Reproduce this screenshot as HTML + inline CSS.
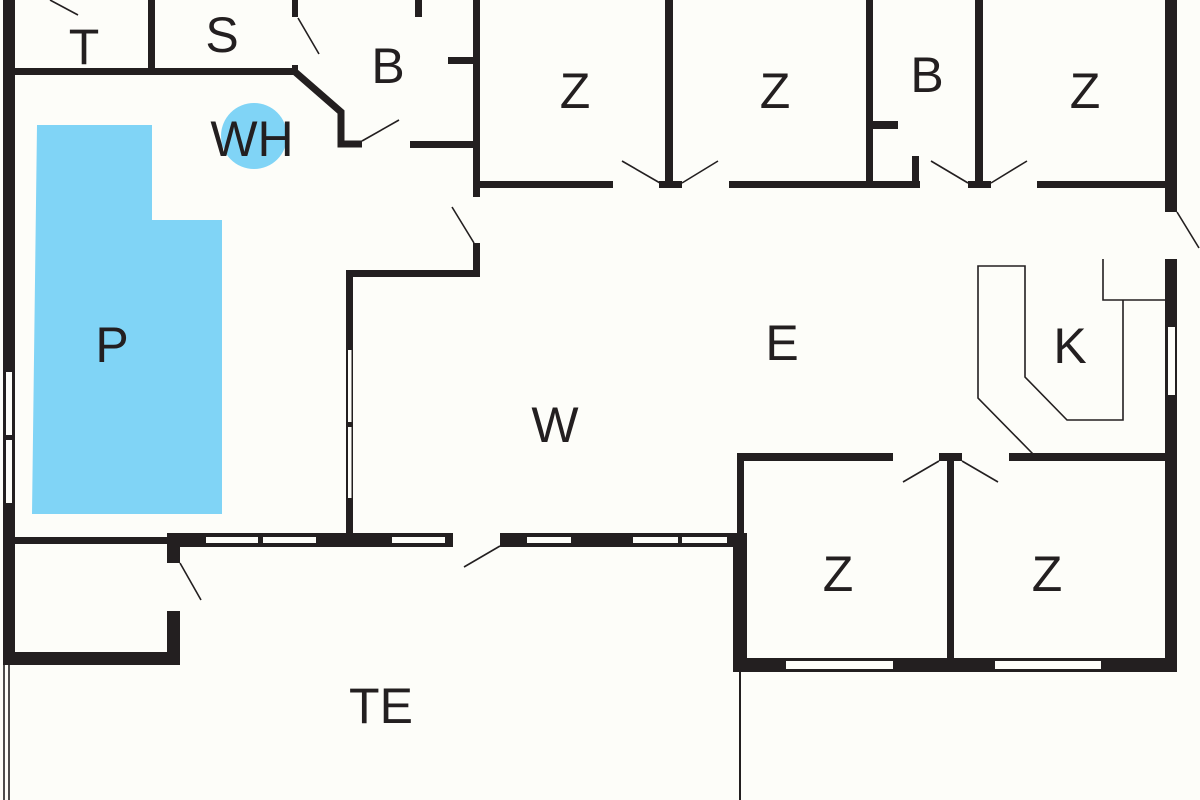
<!DOCTYPE html>
<html>
<head>
<meta charset="utf-8">
<style>
  html, body { margin:0; padding:0; background:#fdfdf9; }
  svg { display:block; }
  text { font-family: "Liberation Sans", Arial, sans-serif; font-size:50px; fill:#231f20; text-anchor:middle; }
</style>
</head>
<body>
<svg width="1200" height="800" viewBox="0 0 1200 800" xmlns="http://www.w3.org/2000/svg">
  <rect x="0" y="0" width="1200" height="800" fill="#fdfdf9"/>

  <!-- Pool -->
  <polygon points="37,125 152,125 152,220 222,220 222,514 32,514" fill="#80d4f6"/>
  <!-- WH circle -->
  <circle cx="254" cy="136" r="33" fill="#80d4f6"/>

  <g fill="#231f20">
    <!-- Left outer wall -->
    <rect x="3" y="0" width="12" height="665"/>
    <!-- T/S bottom wall -->
    <rect x="3" y="68" width="293" height="7"/>
    <!-- T/S divider -->
    <rect x="148" y="0" width="7" height="72"/>
    <!-- B (left) walls -->
    <rect x="292" y="0" width="6" height="17"/>
    <rect x="292" y="65" width="6" height="8"/>
    <rect x="410" y="141" width="70" height="7"/>
    <rect x="473" y="0" width="7" height="197"/>
    <rect x="473" y="243" width="7" height="34"/>
    <rect x="448" y="57" width="25" height="7"/>
    <rect x="415" y="0" width="7" height="17"/>
    <!-- W upper wall -->
    <rect x="346" y="270" width="134" height="7"/>
    <!-- W left vertical wall -->
    <rect x="346" y="270" width="7" height="277"/>
    <!-- Left lower small room -->
    <rect x="3" y="537" width="167" height="7"/>
    <rect x="167" y="533" width="13" height="30"/>
    <rect x="167" y="611" width="13" height="54"/>
    <rect x="3" y="652" width="177" height="13"/>
    <!-- Main bottom wall -->
    <rect x="167" y="533" width="286" height="14"/>
    <rect x="500" y="533" width="247" height="14"/>
    <!-- Right lower rooms -->
    <rect x="737" y="453" width="7" height="82"/>
    <rect x="733" y="533" width="14" height="139"/>
    <rect x="737" y="453" width="156" height="8"/>
    <rect x="939" y="453" width="23" height="8"/>
    <rect x="1009" y="453" width="168" height="8"/>
    <rect x="947" y="455" width="7" height="205"/>
    <rect x="733" y="658" width="444" height="14"/>
    <!-- Right outer wall -->
    <rect x="1165" y="0" width="12" height="212"/>
    <rect x="1165" y="259" width="12" height="413"/>
    <!-- Top rooms bottom wall -->
    <rect x="473" y="181" width="140" height="7"/>
    <rect x="659" y="181" width="23" height="7"/>
    <rect x="729" y="181" width="191" height="7"/>
    <rect x="968" y="181" width="23" height="7"/>
    <rect x="1037" y="181" width="140" height="7"/>
    <!-- Top verticals -->
    <rect x="665" y="0" width="8" height="188"/>
    <rect x="866" y="0" width="7" height="188"/>
    <rect x="873" y="121" width="25" height="8"/>
    <rect x="912" y="156" width="7" height="32"/>
    <rect x="975" y="0" width="8" height="188"/>
  </g>

  <!-- Diagonal wall -->
  <polyline points="294,71 341,112 341,144 362,144" fill="none" stroke="#231f20" stroke-width="7" stroke-linejoin="miter"/>

  <!-- Windows (white insets) -->
  <g fill="#fdfdf9">
    <rect x="6" y="372" width="6" height="63"/>
    <rect x="6" y="440" width="6" height="63"/>
    <rect x="348" y="350" width="3.5" height="72"/>
    <rect x="348" y="427" width="3.5" height="71"/>
    <rect x="206" y="537" width="52" height="6"/>
    <rect x="263" y="537" width="53" height="6"/>
    <rect x="392" y="537" width="53" height="6"/>
    <rect x="527" y="537" width="44" height="6"/>
    <rect x="633" y="537" width="45" height="6"/>
    <rect x="682" y="537" width="45" height="6"/>
    <rect x="786" y="661" width="107" height="8"/>
    <rect x="995" y="661" width="106" height="8"/>
    <rect x="1168" y="327" width="7" height="68"/>
  </g>

  <!-- Thin lines: door swings, kitchen, terrace -->
  <g fill="none" stroke="#231f20" stroke-width="1.6">
    <line x1="50" y1="0" x2="78" y2="15"/>
    <line x1="298" y1="18" x2="319" y2="54"/>
    <line x1="362" y1="141" x2="399" y2="120"/>
    <line x1="452" y1="207" x2="474" y2="243"/>
    <line x1="622" y1="161" x2="660" y2="183"/>
    <line x1="682" y1="183" x2="718" y2="161"/>
    <line x1="931" y1="161" x2="968" y2="183"/>
    <line x1="991" y1="183" x2="1027" y2="161"/>
    <line x1="1177" y1="212" x2="1199" y2="248"/>
    <line x1="903" y1="482" x2="939" y2="461"/>
    <line x1="962" y1="461" x2="998" y2="482"/>
    <line x1="500" y1="546" x2="464" y2="567"/>
    <line x1="180" y1="563" x2="201" y2="600"/>
    <!-- Kitchen -->
    <polyline points="1103,259 1103,300 1165,300"/>
    <polyline points="1123,300 1123,420 1067,420 1025,377 1025,266 978,266 978,398 1033,454"/>
    <!-- Terrace boundaries -->
    <line x1="4" y1="665" x2="4" y2="800"/>
    <line x1="9" y1="665" x2="9" y2="800"/>
    <line x1="740" y1="672" x2="740" y2="800" stroke-width="2"/>
  </g>

  <!-- Labels -->
  <text x="84" y="64">T</text>
  <text x="222" y="52">S</text>
  <text x="388" y="83">B</text>
  <text x="252" y="156">WH</text>
  <text x="575" y="108">Z</text>
  <text x="775" y="108">Z</text>
  <text x="927" y="92">B</text>
  <text x="1085" y="108">Z</text>
  <text x="112" y="362">P</text>
  <text x="782" y="360">E</text>
  <text x="1070" y="363">K</text>
  <text x="555" y="442">W</text>
  <text x="838" y="591">Z</text>
  <text x="1047" y="591">Z</text>
  <text x="381" y="723">TE</text>
</svg>
</body>
</html>
